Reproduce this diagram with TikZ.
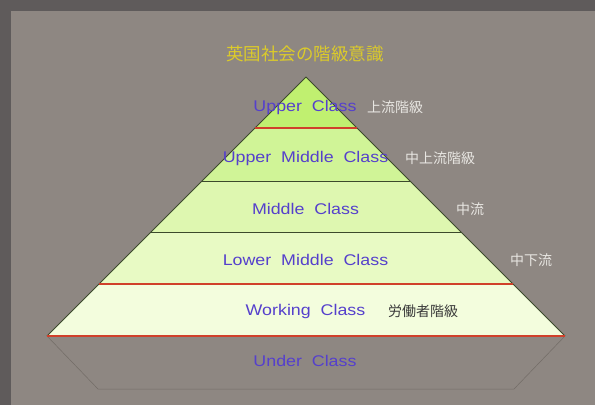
\documentclass[tikz,border=0pt]{standalone}
\usepackage{fontspec}
\setmainfont{Liberation Sans}[FakeStretch=1.15]
\newfontfamily\jpfont{Noto Sans CJK JP}
\definecolor{frame}{HTML}{5F5B5B}
\definecolor{panel}{HTML}{8E8782}
\definecolor{lay1}{HTML}{C0F070}
\definecolor{lay2}{HTML}{D0F497}
\definecolor{lay3}{HTML}{DEF7B0}
\definecolor{lay4}{HTML}{E8FAC4}
\definecolor{lay5}{HTML}{F3FDDD}
\definecolor{edge}{HTML}{3C4A2C}
\definecolor{redline}{HTML}{D0402A}
\definecolor{entext}{HTML}{5540CC}
\definecolor{jplight}{HTML}{E8E6E2}
\definecolor{jpdark}{HTML}{3A3A3A}
\definecolor{titlecol}{HTML}{DCCB2A}
\definecolor{underline}{HTML}{726C66}
\tikzset{
  entxt/.style={text=entext, font=\fontsize{15.5}{18}\selectfont, inner sep=0pt},
  jptxt/.style={text=jplight, font=\jpfont\fontsize{14}{16}\selectfont, inner sep=0pt},
  jpdk/.style={text=jpdark, font=\jpfont\fontsize{14}{16}\selectfont, inner sep=0pt},
  titletxt/.style={text=titlecol, font=\jpfont\fontsize{17.5}{20}\selectfont, inner sep=0pt},
  redsep/.style={draw=redline, line width=1.4pt},
  darksep/.style={draw=edge, line width=1pt}
}
\begin{document}
\begin{tikzpicture}[x=1pt,y=-1pt]
\useasboundingbox (0,0) rectangle (595,405);
\fill[frame] (0,0) rectangle (595,405);
\fill[panel] (11,11) rectangle (595,405);
% coordinates of layer boundaries (45 degree sides, apex at 306,77)
\coordinate (apex) at (306,77);
\coordinate (l1) at (255,128); \coordinate (r1) at (357,128);
\coordinate (l2) at (202,181); \coordinate (r2) at (410,181);
\coordinate (l3) at (151,232); \coordinate (r3) at (461,232);
\coordinate (l4) at (99,284);  \coordinate (r4) at (513,284);
\coordinate (l5) at (47,336);  \coordinate (r5) at (565,336);
\coordinate (ul) at (98,389);  \coordinate (ur) at (514,389);
% fills
\fill[lay1] (apex) -- (r1) -- (l1) -- cycle;
\fill[lay2] (l1) -- (r1) -- (r2) -- (l2) -- cycle;
\fill[lay3] (l2) -- (r2) -- (r3) -- (l3) -- cycle;
\fill[lay4] (l3) -- (r3) -- (r4) -- (l4) -- cycle;
\fill[lay5] (l4) -- (r4) -- (r5) -- (l5) -- cycle;
% under class trapezoid
\draw[underline, line width=0.5pt] (l5) -- (ul) -- (ur) -- (r5);
% outline
\draw[edge, line width=1pt, line join=round] (l5) -- (apex) -- (r5);
% separators
\draw[redsep] (l1) -- (r1);
\draw[darksep] (l2) -- (r2);
\draw[darksep] (l3) -- (r3);
\draw[redsep] (l4) -- (r4);
\draw[redsep] (l5) -- (r5);
% title
\node[titletxt] (title) at (305,54) {英国社会の階級意識};
% labels
\node[entxt] (upper) at (305,107) {Upper\ \ Class};
\node[jptxt] (upperj) at (395,107) {上流階級};
\node[entxt] (umid) at (305.5,158) {Upper\ \ Middle\ \ Class};
\node[jptxt] (umidj) at (440,158) {中上流階級};
\node[entxt] (mid) at (305.5,209) {Middle\ \ Class};
\node[jptxt] (midj) at (470,209) {中流};
\node[entxt] (lmid) at (305.5,260) {Lower\ \ Middle\ \ Class};
\node[jptxt] (lmidj) at (531,260) {中下流};
\node[entxt] (work) at (305.5,311) {Working\ \ Class};
\node[jpdk] (workj) at (423,311) {労働者階級};
\node[entxt] (under) at (305,361) {Under\ \ Class};
\end{tikzpicture}
\end{document}
